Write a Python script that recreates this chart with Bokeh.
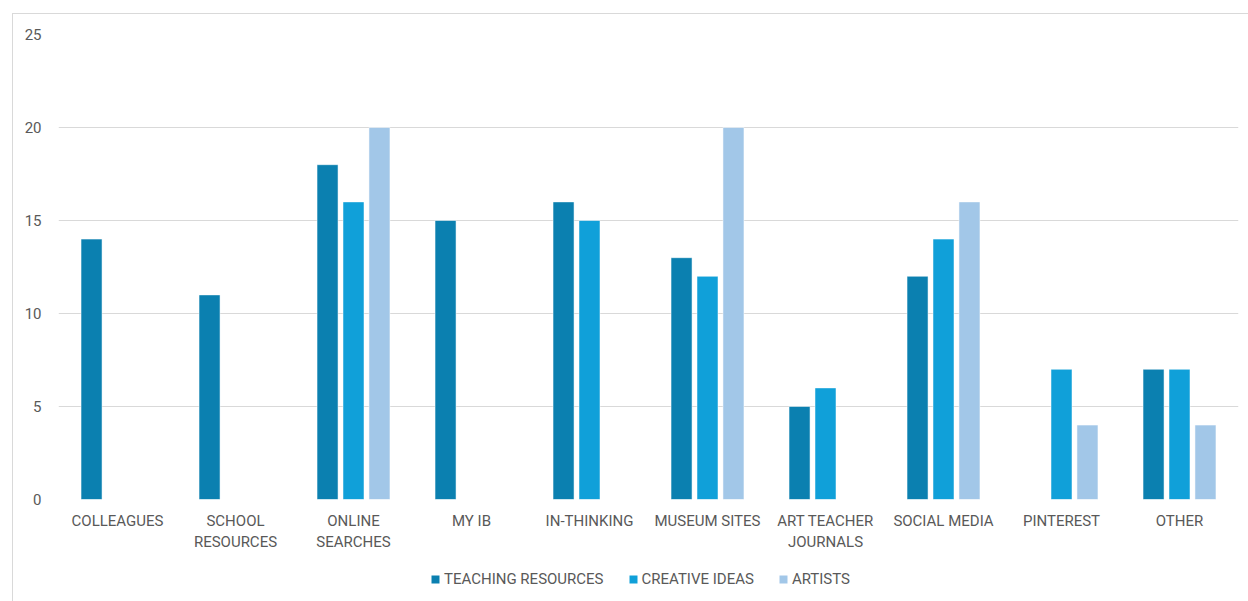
from bokeh.plotting import figure
from bokeh.models import ColumnDataSource, FactorRange, Legend, LegendItem
from bokeh.layouts import column
from bokeh.transform import dodge
from bokeh.embed import file_html
from bokeh.resources import INLINE

categories = ["COLLEAGUES", "SCHOOL\nRESOURCES", "ONLINE\nSEARCHES", "MY IB", "IN-THINKING",
              "MUSEUM SITES", "ART TEACHER\nJOURNALS", "SOCIAL MEDIA", "PINTEREST", "OTHER"]
series_names = ["TEACHING RESOURCES", "CREATIVE IDEAS", "ARTISTS"]
teaching = [14, 11, 18, 15, 16, 13, 5, 12, 0, 7]
creative = [0, 0, 16, 0, 15, 12, 6, 14, 7, 7]
artists = [0, 0, 20, 0, 0, 20, 0, 16, 4, 4]
colors = ["#0B80B0", "#10A0D9", "#A2C7E8"]
y_ticks = [0, 5, 10, 15, 20, 25]

FONT = "Roboto"
GRAY = "#595959"

p = figure(x_range=FactorRange(*categories, range_padding=0), y_range=(0, 25),
           width=1236, height=552, output_backend="svg", toolbar_location=None,
           min_border_left=45, min_border_right=11, min_border_top=20, min_border_bottom=67)
p.outline_line_color = None
p.background_fill_color = "white"
p.border_fill_color = "white"

offsets = [-0.22, 0.0, 0.22]
for name, vals, col, off in zip(series_names, [teaching, creative, artists], colors, offsets):
    xs = [c for c, v in zip(categories, vals) if v > 0]
    ys = [v for v in vals if v > 0]
    src = ColumnDataSource(dict(x=xs, top=ys))
    p.vbar(x=dodge("x", off, range=p.x_range), top="top", width=0.178, bottom=0,
           source=src, fill_color=col, line_color="white", line_width=0.5)

p.xgrid.grid_line_color = None
p.ygrid.grid_line_color = "#d9d9d9"
p.ygrid.grid_line_width = 1
p.yaxis.ticker = y_ticks

for ax in (p.xaxis[0], p.yaxis[0]):
    ax.axis_line_color = None
    ax.major_tick_line_color = None
    ax.minor_tick_line_color = None
    ax.major_label_text_color = GRAY
    ax.major_label_text_font = FONT
    ax.major_label_text_font_size = "15px"
p.yaxis.major_label_standoff = 11
p.xaxis.major_label_standoff = 6
p.xaxis.major_label_text_line_height = 1.18

# legend strip
lf = figure(width=1236, height=36, x_range=(0, 1), y_range=(0, 1), output_backend="svg",
            toolbar_location=None, min_border=0)
lf.axis.visible = False
lf.grid.visible = False
lf.outline_line_color = None
lf.border_fill_color = "white"
items = []
for name, col in zip(series_names, colors):
    r = lf.vbar(x=[0.5], bottom=[-6], top=[-5], width=0.01, fill_color=col, line_color=None)
    items.append(LegendItem(label=name, renderers=[r]))
legend = Legend(items=items, orientation="horizontal", location=(372, 14),
                label_text_font=FONT, label_text_font_size="15px", label_text_color=GRAY,
                glyph_width=10, glyph_height=10, label_standoff=4, spacing=24,
                border_line_color=None, background_fill_alpha=0, margin=0, padding=2)
lf.add_layout(legend, "center")

layout = column(p, lf, spacing=0)
layout.styles = {"margin-left": "12px", "margin-top": "13px",
                 "border-left": "1px solid #d9d9d9", "border-top": "1px solid #d9d9d9"}

open("out.html", "w").write(file_html(layout, INLINE))
